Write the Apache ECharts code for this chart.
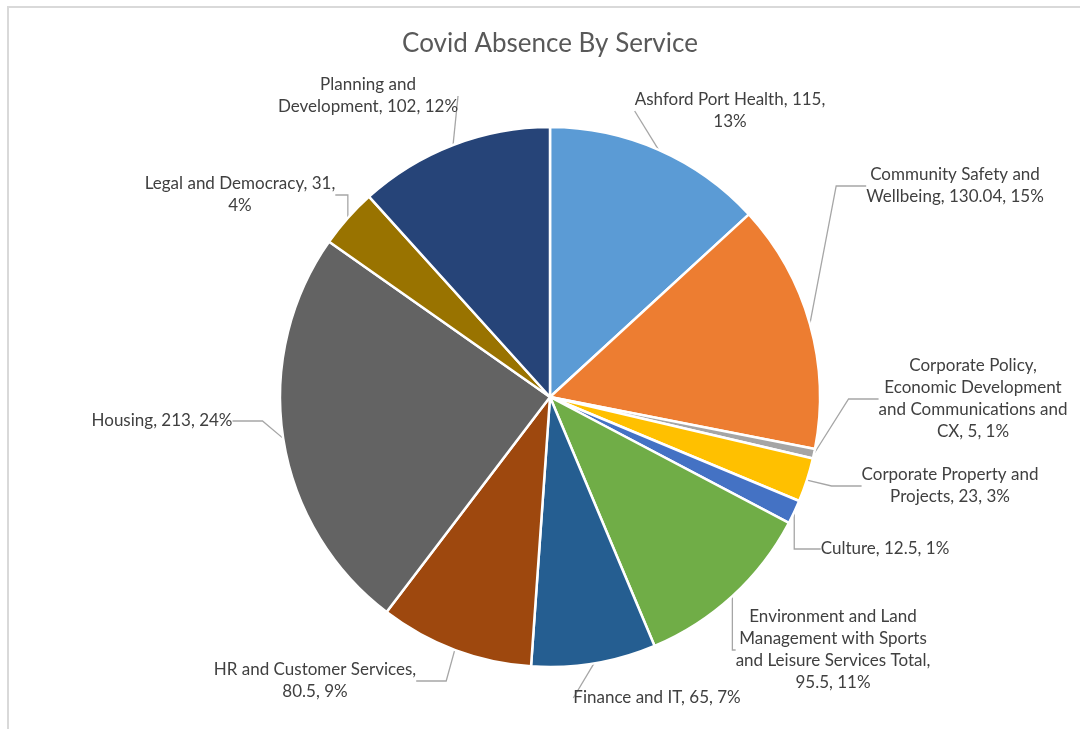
<!DOCTYPE html>
<html>
<head>
<meta charset="utf-8">
<script src="https://cdn.jsdelivr.net/npm/echarts@6/dist/echarts.min.js"></script>
<style>
  html, body { margin: 0; padding: 0; background: #fff; }
  #chart { width: 1080px; height: 729px; }
</style>
</head>
<body>
<div id="chart"></div>
<script>
// Services (name lines) and covid absence days per service
const services = [
  'Ashford Port Health',
  'Community Safety and\nWellbeing',
  'Corporate Policy,\nEconomic Development\nand Communications and\nCX',
  'Corporate Property and\nProjects',
  'Culture',
  'Environment and Land\nManagement with Sports\nand Leisure Services Total',
  'Finance and IT',
  'HR and Customer Services',
  'Housing',
  'Legal and Democracy',
  'Planning and\nDevelopment'
];
const absenceDays = [115, 130.04, 5, 23, 12.5, 95.5, 65, 80.5, 213, 31, 102];

// Separator after the name / after the value in each label (space or line break)
const sepAfterName  = [' ', ' ', ' ', ' ', ' ', '\n', ' ', '\n', ' ', ' ', ' '];
const sepAfterValue = ['\n', ' ', ' ', ' ', ' ', ' ', ' ', ' ', ' ', '\n', ' '];

const sliceColors = ['#5B9BD5', '#ED7D31', '#A5A5A5', '#FFC000', '#4472C4', '#70AD47',
                     '#255E91', '#9E480E', '#636363', '#997300', '#264478'];

// Label box centres
const labelCenters = [
  [730, 111], [955, 186], [973, 399], [950, 486], [885, 549], [833, 650],
  [657, 698], [315, 681], [162, 421], [240, 195], [368, 96]
];

const total = absenceDays.reduce((a, b) => a + b, 0);

const chart = echarts.init(document.getElementById('chart'));
chart.setOption({
  backgroundColor: '#ffffff',
  animation: false,
  title: {
    text: 'Covid Absence By Service',
    left: 545,
    top: 26,
    textAlign: 'center',
    textStyle: { fontFamily: 'Lato', fontSize: 26, fontWeight: 'normal', color: '#595959' }
  },
  graphic: [{
    type: 'rect',
    shape: { x: 8, y: 7, width: 1200, height: 900 },
    style: { fill: 'none', stroke: '#d9d9d9', lineWidth: 2 },
    silent: true
  }],
  series: [{
    type: 'pie',
    center: [550, 397],
    radius: [0, 270],
    startAngle: 90,
    clockwise: true,
    avoidLabelOverlap: false,
    itemStyle: { borderColor: '#ffffff', borderWidth: 2.5 },
    label: {
      show: true,
      position: 'outside',
      fontFamily: 'Lato',
      fontSize: 17,
      lineHeight: 22,
      color: '#404040',
      align: 'center',
      formatter: p => {
        const i = p.dataIndex;
        const pct = Math.round(p.value / total * 100);
        return p.name + ',' + sepAfterName[i] + p.value + ',' + sepAfterValue[i] + pct + '%';
      }
    },
    labelLine: { show: true, lineStyle: { color: '#a6a6a6', width: 1.3 } },
    labelLayout: params => {
      const c = labelCenters[params.dataIndex];
      return { x: c[0], y: c[1], align: 'center', verticalAlign: 'middle' };
    },
    data: services.map((name, i) => ({
      name: name,
      value: absenceDays[i],
      itemStyle: { color: sliceColors[i] }
    }))
  }]
});
</script>
</body>
</html>
